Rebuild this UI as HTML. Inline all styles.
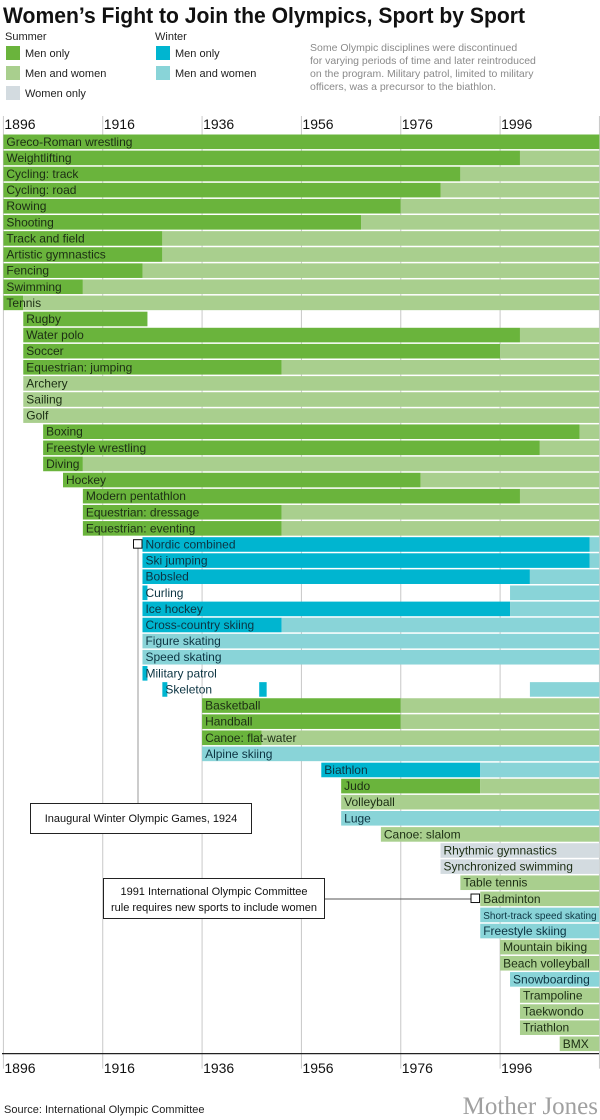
<!DOCTYPE html>
<html><head><meta charset="utf-8"><style>
html,body{margin:0;padding:0;background:#fff;}
svg{display:block;font-family:"Liberation Sans",sans-serif;}
</style></head><body>
<svg id="chart" width="600" height="1120" viewBox="0 0 600 1120" xmlns="http://www.w3.org/2000/svg">
<text x="3" y="23" font-size="22" font-weight="bold" fill="#111" textLength="522" lengthAdjust="spacingAndGlyphs">Women’s Fight to Join the Olympics, Sport by Sport</text>
<g font-size="11" fill="#222">
  <text x="5" y="40">Summer</text>
  <rect x="6" y="46" width="14" height="14" fill="#6ab43c"/>
  <text x="25" y="57">Men only</text>
  <rect x="6" y="66" width="14" height="14" fill="#a9cf8e"/>
  <text x="25" y="77">Men and women</text>
  <rect x="6" y="86" width="14" height="14" fill="#d3dbe0"/>
  <text x="25" y="97">Women only</text>
  <text x="155" y="40">Winter</text>
  <rect x="156" y="46" width="14" height="14" fill="#00b5d0"/>
  <text x="175" y="57">Men only</text>
  <rect x="156" y="66" width="14" height="14" fill="#89d4d8"/>
  <text x="175" y="77">Men and women</text>
</g>
<g font-size="10.5" fill="#8a8a8a">
  <text x="310" y="51">Some Olympic disciplines were discontinued</text>
  <text x="310" y="64">for varying periods of time and later reintroduced</text>
  <text x="310" y="77">on the program. Military patrol, limited to military</text>
  <text x="310" y="90">officers, was a precursor to the biathlon.</text>
</g>
<g id="grid"></g>
<g id="bars"></g>
<g id="annot"></g>
<text x="4" y="1113" font-size="11" fill="#222">Source: International Olympic Committee</text>
<text x="598" y="1114" font-size="25" text-anchor="end" fill="#a0a0a0" font-family="Liberation Serif, serif">Mother Jones</text>
</svg>
<script>
const sportNames = ["Greco-Roman wrestling","Weightlifting","Cycling: track","Cycling: road","Rowing","Shooting","Track and field","Artistic gymnastics","Fencing","Swimming","Tennis","Rugby","Water polo","Soccer","Equestrian: jumping","Archery","Sailing","Golf","Boxing","Freestyle wrestling","Diving","Hockey","Modern pentathlon","Equestrian: dressage","Equestrian: eventing","Nordic combined","Ski jumping","Bobsled","Curling","Ice hockey","Cross-country skiing","Figure skating","Speed skating","Military patrol","Skeleton","Basketball","Handball","Canoe: flat-water","Alpine skiing","Biathlon","Judo","Volleyball","Luge","Canoe: slalom","Rhythmic gymnastics","Synchronized swimming","Table tennis","Badminton","Short-track speed skating","Freestyle skiing","Mountain biking","Beach volleyball","Snowboarding","Trampoline","Taekwondo","Triathlon","BMX"];
const startYears = [1896,1896,1896,1896,1896,1896,1896,1896,1896,1896,1896,1900,1900,1900,1900,1900,1900,1900,1904,1904,1904,1908,1912,1912,1912,1924,1924,1924,1924,1924,1924,1924,1924,1924,1928,1936,1936,1936,1936,1960,1964,1964,1964,1972,1984,1984,1988,1992,1992,1992,1996,1996,1998,2000,2000,2000,2008];
// year women were admitted (end of men-only period); null = never
const womenYears = [null,2000,1988,1984,1976,1968,1928,1928,1924,1912,1900,null,2000,1996,1952,1900,1900,1900,2012,2004,1912,1980,2000,1952,1952,2014,2014,2002,1998,1998,1952,1924,1924,null,2002,1976,1976,1948,1936,1992,1992,1964,1964,1972,1984,1984,1988,1992,1992,1992,1996,1996,1998,2000,2000,2000,2008];
// year men-only period ends when the sport was discontinued (gap)
const menOnlyEnds = [2016,2000,1988,1984,1976,1968,1928,1928,1924,1912,1900,1925,2000,1996,1952,1900,1900,1900,2012,2004,1912,1980,2000,1952,1952,2014,2014,2002,1925,1998,1952,1924,1924,1925,1929,1976,1976,1948,1936,1992,1992,1964,1964,1972,1984,1984,1988,1992,1992,1992,1996,1996,1998,2000,2000,2000,2008];
const extraMenStart = [1947.5];
const extraMenEnd = [1949];
const extraMenRow = [34];
const seasons = ["S","S","S","S","S","S","S","S","S","S","S","S","S","S","S","S","S","S","S","S","S","S","S","S","S","W","W","W","W","W","W","W","W","W","W","S","S","S","W","W","S","S","W","S","S","S","S","S","W","W","S","S","W","S","S","S","S"];
const womenOnly = ["Rhythmic gymnastics","Synchronized swimming"];
const tickYears = [1896,1916,1936,1956,1976,1996];
const endYear = 2016;

const NS="http://www.w3.org/2000/svg";
const X0=3.4, PXY=4.967, Y0=134.5, PITCH=16.107, BH=14.6;
function xs(y){return X0+(y-1896)*PXY;}
function ys(i){return Y0+i*PITCH;}
function mk(tag,attrs,parent){const e=document.createElementNS(NS,tag);for(const k in attrs)e.setAttribute(k,attrs[k]);parent.appendChild(e);return e;}
const grid=document.getElementById('grid'), bars=document.getElementById('bars'), annot=document.getElementById('annot');
const bottomY=ys(sportNames.length)+1;
// gridlines & ticks
[...tickYears,endYear].forEach(t=>{
  const l=mk('line',{x1:xs(t),x2:xs(t),y1:116,y2:bottomY+15,stroke:'#c8c8c8','stroke-width':1},grid);
  
  
});
tickYears.forEach(t=>{
  const a=mk('text',{x:xs(t)+1,y:129,'font-size':14,fill:'#111'},grid);a.textContent=t;
  
  
  const b=mk('text',{x:xs(t)+1,y:1073,'font-size':14,fill:'#111'},grid);b.textContent=t;
  
  
});
const ax=mk('line',{x1:2,x2:599,y1:bottomY,y2:bottomY,stroke:'#222','stroke-width':1.3},grid);


const COL={S:['#6ab43c','#a9cf8e'],W:['#00b5d0','#89d4d8']};
sportNames.forEach((n,i)=>{
  const g=mk('g',{},bars);
  
  
  const y=ys(i), s=startYears[i], c=COL[seasons[i]];
  if(womenOnly.includes(n)){
    const r=mk('rect',{x:xs(s),y:y,width:xs(endYear)-xs(s),height:BH,fill:'#d3dbe0'},g);
    
    
  } else {
    const me=menOnlyEnds[i];
    if(me>s){const r=mk('rect',{x:xs(s),y:y,width:xs(me)-xs(s),height:BH,fill:c[0]},g);
      
      }
    const w=womenYears[i];
    if(w!==null){const r=mk('rect',{x:xs(w),y:y,width:xs(endYear)-xs(w),height:BH,fill:c[1]},g);
      
      }
  }
  extraMenRow.forEach((ri,k)=>{ if(ri===i){
    const r=mk('rect',{x:xs(extraMenStart[k]),y:y,width:xs(extraMenEnd[k])-xs(extraMenStart[k]),height:BH,fill:c[0]},g);
    
    }});
  const small=n.length>22;
  const t=mk('text',{x:xs(s)+3,y:y+BH-3.3,'font-size':small?10:12,fill:seasons[i]==='W'?'#0c3442':'#1c2e14'},g);
  t.textContent=n;
  
  
});
// annotations
const iNordic=sportNames.indexOf("Nordic combined"), iBad=sportNames.indexOf("Badminton");
const l1=mk('line',{x1:138,x2:138,y1:ys(iNordic)+10,y2:803,stroke:'#999','stroke-width':1},annot);


const m1=mk('rect',{x:133.5,y:ys(iNordic)+2.5,width:8.5,height:8.5,fill:'#fff',stroke:'#111','stroke-width':1},annot);


const b1=mk('rect',{x:30.5,y:803.5,width:221,height:30,fill:'#fff',stroke:'#222','stroke-width':1},annot);


const t1=mk('text',{x:141,y:822,'font-size':11,'text-anchor':'middle',fill:'#111'},annot);t1.textContent="Inaugural Winter Olympic Games, 1924";


const l2=mk('line',{x1:325,x2:471,y1:899,y2:899,stroke:'#555','stroke-width':1},annot);


const m2=mk('rect',{x:471,y:ys(iBad)+2.5,width:8.5,height:8.5,fill:'#fff',stroke:'#111','stroke-width':1},annot);


const b2=mk('rect',{x:103.5,y:878.5,width:221,height:40,fill:'#fff',stroke:'#222','stroke-width':1},annot);


const t2=mk('text',{x:214,y:895,'font-size':11,'text-anchor':'middle',fill:'#111'},annot);t2.textContent="1991 International Olympic Committee";


const t3=mk('text',{x:214,y:911,'font-size':11,'text-anchor':'middle',fill:'#111'},annot);t3.textContent="rule requires new sports to include women";


</script>
</body></html>
